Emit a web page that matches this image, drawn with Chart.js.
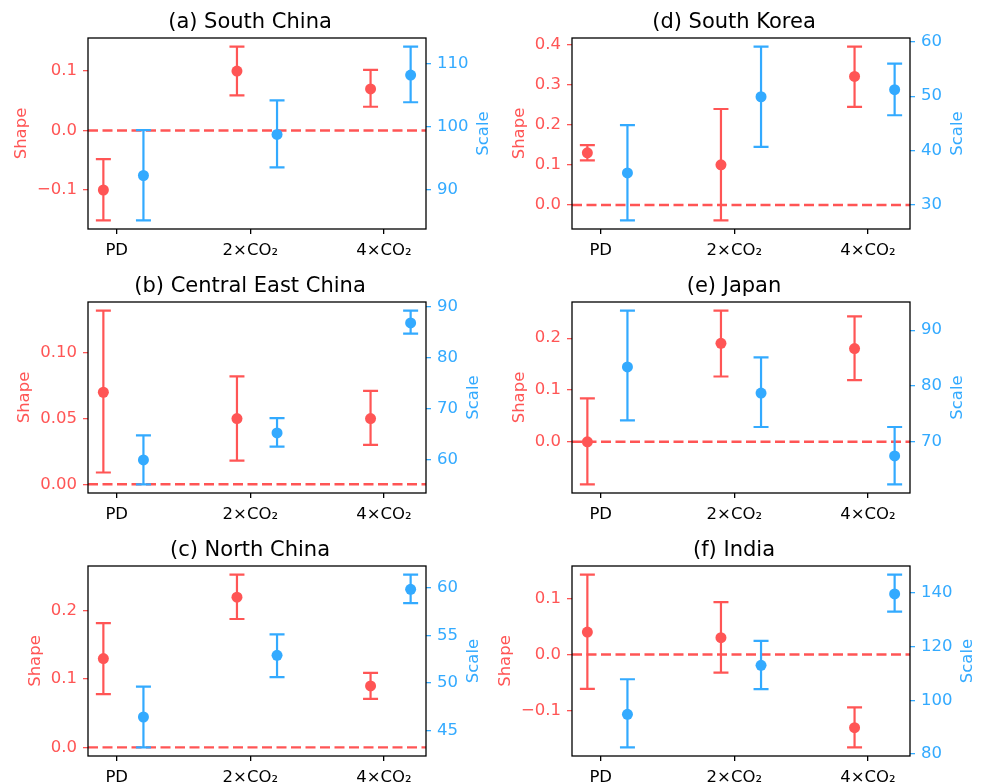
<!DOCTYPE html>
<html>
<head>
<meta charset="utf-8">
<script src="https://cdn.jsdelivr.net/npm/chart.js@4.4.0/dist/chart.umd.min.js"></script>
<style>
  html, body { margin: 0; padding: 0; background: #fff; }
  #fig { position: relative; width: 984px; height: 783px; overflow: hidden; }
  #fig canvas { position: absolute; }
</style>
</head>
<body>
<div id="fig"></div>
<script>
const categories = ['PD', '2×CO₂', '4×CO₂'];
const panelTitles = ['(a) South China', '(b) Central East China', '(c) North China',
                     '(d) South Korea', '(e) Japan', '(f) India'];
const shapeLabel = 'Shape';
const scaleLabel = 'Scale';

// shape parameter per region: estimate and lower / upper bound
const shapeMean = [
  [-0.100, 0.100, 0.070],
  [0.070, 0.050, 0.050],
  [0.130, 0.220, 0.090],
  [0.130, 0.100, 0.320],
  [0.000, 0.190, 0.180],
  [0.040, 0.030, -0.130]
];
const shapeLow = [
  [-0.151, 0.059, 0.040],
  [0.009, 0.018, 0.030],
  [0.078, 0.188, 0.071],
  [0.111, -0.038, 0.244],
  [-0.082, 0.126, 0.119],
  [-0.061, -0.032, -0.165]
];
const shapeHigh = [
  [-0.048, 0.141, 0.102],
  [0.132, 0.082, 0.071],
  [0.182, 0.253, 0.109],
  [0.149, 0.239, 0.394],
  [0.084, 0.253, 0.242],
  [0.142, 0.093, -0.094]
];

// scale parameter per region
const scaleMean = [
  [92.3, 98.8, 108.2],
  [60.0, 65.3, 86.9],
  [46.4, 52.9, 59.85],
  [35.9, 49.9, 51.2],
  [83.4, 78.7, 67.4],
  [94.8, 113.1, 139.7]
];
const scaleLow = [
  [85.2, 93.6, 103.9],
  [55.2, 62.6, 84.8],
  [43.2, 50.6, 58.4],
  [27.2, 40.7, 46.5],
  [73.8, 72.6, 62.3],
  [82.5, 104.2, 133.1]
];
const scaleHigh = [
  [99.5, 104.2, 112.7],
  [64.8, 68.2, 89.3],
  [49.6, 55.1, 61.4],
  [44.7, 59.1, 56.0],
  [93.5, 85.1, 72.6],
  [107.9, 122.2, 146.9]
];

// tick spacing of each panel
const shapeStep = [0.1, 0.05, 0.1, 0.1, 0.1, 0.1];
const shapeDecimals = [1, 2, 1, 1, 1, 1];
const scaleStep = [10, 10, 5, 10, 10, 20];

const RED = '#ff5555';
const BLUE = '#33aaff';
const FONT = 'DejaVu Sans';
const TICK_SIZE = 16.5;
Chart.defaults.font.family = FONT;

// layout of the 2 x 3 grid (plot boxes)
const plotLeft = [88, 572];
const plotTop = [38, 302, 566];
const plotH = [191, 191, 190];
const plotW = 338;
const BELOW = 48;
const SHIFT_SHAPE = -0.1, SHIFT_SCALE = 0.2;

function paddedRange(values, withZero) {
  let lo = Math.min(...values), hi = Math.max(...values);
  if (withZero) { lo = Math.min(lo, 0); hi = Math.max(hi, 0); }
  const m = (hi - lo) * 0.05;
  return [lo - m, hi + m];
}

function stepTicks(min, max, step) {
  const out = [];
  for (let k = Math.ceil(min / step - 1e-9); k * step <= max + 1e-9; k++) {
    out.push({ value: +(k * step).toFixed(6) });
  }
  return out;
}

const errorBars = {
  id: 'errorBars',
  beforeDatasetsDraw(chart) {
    const { ctx, chartArea: area, scales } = chart;
    ctx.save();
    // dashed zero line on the shape axis
    const y0 = scales.yShape.getPixelForValue(0);
    ctx.strokeStyle = RED;
    ctx.lineWidth = 2.4;
    ctx.setLineDash([10, 4.5]);
    ctx.beginPath();
    ctx.moveTo(area.left, y0);
    ctx.lineTo(area.right, y0);
    ctx.stroke();
    ctx.setLineDash([]);
    chart.data.datasets.forEach(ds => {
      const ys = scales[ds.yAxisID];
      ctx.strokeStyle = ds.backgroundColor;
      ctx.lineWidth = 2.2;
      ds.data.forEach(p => {
        const x = scales.x.getPixelForValue(p.x);
        const top = ys.getPixelForValue(p.hi);
        const bot = ys.getPixelForValue(p.lo);
        ctx.beginPath();
        ctx.moveTo(x, top); ctx.lineTo(x, bot);
        ctx.moveTo(x - 7.5, top); ctx.lineTo(x + 7.5, top);
        ctx.moveTo(x - 7.5, bot); ctx.lineTo(x + 7.5, bot);
        ctx.stroke();
      });
    });
    ctx.restore();
  },
  afterDraw(chart) {
    const { ctx, chartArea: area, scales } = chart;
    ctx.save();
    ctx.strokeStyle = '#000';
    ctx.lineWidth = 1.3;
    ctx.strokeRect(area.left, area.top, area.right - area.left, area.bottom - area.top);

    // axis titles sit just outside the widest tick label
    ctx.font = TICK_SIZE + 'px "' + FONT + '"';
    const widest = s => Math.max(...s.ticks.map(t => ctx.measureText(String(t.label)).width));
    const midY = (area.top + area.bottom) / 2;
    const label = (text, x, color) => {
      ctx.save();
      ctx.translate(x, midY);
      ctx.rotate(-Math.PI / 2);
      ctx.fillStyle = color;
      ctx.textAlign = 'center';
      ctx.textBaseline = 'middle';
      ctx.fillText(text, 0, 0);
      ctx.restore();
    };
    label(shapeLabel, area.left - 11 - widest(scales.yShape) - 15.5, RED);
    label(scaleLabel, area.right + 11 + widest(scales.yScale) + 15.5, BLUE);
    ctx.restore();
  }
};

const fig = document.getElementById('fig');

panelTitles.forEach((title, i) => {
  const col = Math.floor(i / 3), row = i % 3;
  const canvas = document.createElement('canvas');
  canvas.width = 88 + plotW + 74;
  canvas.height = 38 + plotH[row] + BELOW;
  canvas.style.left = (plotLeft[col] - 88) + 'px';
  canvas.style.top = (plotTop[row] - 38) + 'px';
  fig.appendChild(canvas);

  const shapePts = categories.map((c, k) => ({
    x: k + SHIFT_SHAPE, y: shapeMean[i][k], lo: shapeLow[i][k], hi: shapeHigh[i][k]
  }));
  const scalePts = categories.map((c, k) => ({
    x: k + SHIFT_SCALE, y: scaleMean[i][k], lo: scaleLow[i][k], hi: scaleHigh[i][k]
  }));

  const [xMin, xMax] = paddedRange([SHIFT_SHAPE, categories.length - 1 + SHIFT_SCALE], false);
  const [sMin, sMax] = paddedRange([...shapeLow[i], ...shapeHigh[i]], true);
  const [cMin, cMax] = paddedRange([...scaleLow[i], ...scaleHigh[i]], false);

  new Chart(canvas.getContext('2d'), {
    type: 'scatter',
    data: {
      datasets: [
        { label: shapeLabel, data: shapePts, yAxisID: 'yShape', backgroundColor: RED,
          pointRadius: 5.5, pointHoverRadius: 5.5, borderWidth: 0 },
        { label: scaleLabel, data: scalePts, yAxisID: 'yScale', backgroundColor: BLUE,
          pointRadius: 5.5, pointHoverRadius: 5.5, borderWidth: 0 }
      ]
    },
    options: {
      responsive: false,
      animation: false,
      events: [],
      layout: { padding: { top: 10, left: 0, right: 0, bottom: 0 }, autoPadding: false },
      plugins: {
        legend: { display: false },
        tooltip: { enabled: false },
        title: {
          display: true, text: title, color: '#000',
          font: { size: 21, family: FONT, weight: 'normal' },
          padding: { top: 0, bottom: 2.8 }
        }
      },
      scales: {
        x: {
          type: 'linear', position: 'bottom', min: xMin, max: xMax, bounds: 'data',
          afterBuildTicks: s => { s.ticks = categories.map((c, k) => ({ value: k })); },
          afterFit: s => { s.height = BELOW; },
          ticks: { callback: v => categories[v], color: '#000', font: { size: TICK_SIZE },
                   padding: 7, maxRotation: 0, autoSkip: false },
          grid: { drawOnChartArea: false, tickLength: 5, tickColor: '#000', lineWidth: 1.3 },
          border: { display: false }
        },
        yShape: {
          type: 'linear', position: 'left', min: sMin, max: sMax, bounds: 'data',
          afterBuildTicks: s => { s.ticks = stepTicks(sMin, sMax, shapeStep[i]); },
          afterFit: s => { s.width = 88; },
          ticks: { callback: v => v.toFixed(shapeDecimals[i]).replace('-', '\u2212'),
                   color: RED, font: { size: TICK_SIZE }, padding: 6 },
          grid: { drawOnChartArea: false, tickLength: 5, tickColor: RED, lineWidth: 1.3 },
          border: { display: false }
        },
        yScale: {
          type: 'linear', position: 'right', min: cMin, max: cMax, bounds: 'data',
          afterBuildTicks: s => { s.ticks = stepTicks(cMin, cMax, scaleStep[i]); },
          afterFit: s => { s.width = 74; },
          ticks: { callback: v => String(Math.round(v)), color: BLUE, font: { size: TICK_SIZE }, padding: 6 },
          grid: { drawOnChartArea: false, tickLength: 5, tickColor: BLUE, lineWidth: 1.3 },
          border: { display: false }
        }
      }
    },
    plugins: [errorBars]
  });
});
</script>
</body>
</html>
